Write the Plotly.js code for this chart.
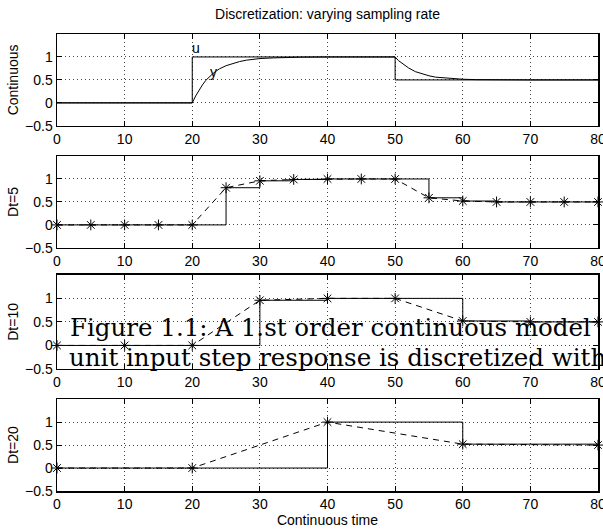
<!DOCTYPE html>
<html><head><meta charset="utf-8">
<script src="https://cdn.plot.ly/plotly-3.0.1.min.js"></script>
<style>html,body{margin:0;padding:0;background:#fff;overflow:hidden}#chart{width:603px;height:529px}</style>
</head><body><div id="chart"></div>
<script>
// ---- data ----
var xTicks = [0,10,20,30,40,50,60,70,80];
var yTicks = [-0.5,0,0.5,1];
var yTickText = ['\u22120.5','0','0.5','1'];
var titleText = 'Discretization: varying sampling rate';
var xTitle = 'Continuous time';
var panelLabels = ['Continuous','Dt=5','Dt=10','Dt=20'];
var captionLine1 = 'Figure 1.1: A 1.st order continuous model';
var captionLine2 = 'unit input step response is discretized with';

// continuous input u (step changes) and output y
var uT = [0,20,50,80];
var uV = [0,1,0.5,0.5];
var yT = [0,20,20.5,21,21.5,22,22.5,23,23.5,24,25,26,27,28,29,30,32,34,36,40,45,50,50.5,51,51.5,52,53,54,55,56,57,58,60,62,64,66,70,80];
var yV = [0,0,0.15,0.28,0.39,0.49,0.57,0.63,0.69,0.74,0.81,0.86,0.90,0.93,0.95,0.965,0.98,0.99,0.995,1,1,1,0.92,0.86,0.81,0.76,0.68,0.63,0.59,0.56,0.545,0.53,0.515,0.507,0.504,0.502,0.5,0.5];

// sampled, Dt = 5
var t5 = [0,5,10,15,20,25,30,35,40,45,50,55,60,65,70,75,80];
var v5 = [0,0,0,0,0,0.81,0.96,0.99,1,1,1,0.59,0.52,0.5,0.5,0.5,0.5];
// sampled, Dt = 10
var t10 = [0,10,20,30,40,50,60,70,80];
var v10 = [0,0,0,0.96,1,1,0.52,0.5,0.5];
// sampled, Dt = 20
var t20 = [0,20,40,60,80];
var v20 = [0,0,1,0.52,0.5];

// ---- traces ----
var black = '#000';
function stairs(t, v, xa, ya){
  return {x:t, y:v, xaxis:xa, yaxis:ya, mode:'lines', line:{shape:'hv', color:black, width:1}, hoverinfo:'skip', showlegend:false};
}
function samples(t, v, xa, ya){
  return {x:t, y:v, xaxis:xa, yaxis:ya, mode:'lines+markers', line:{color:black, width:1, dash:'6px,5px'},
    marker:{symbol:'asterisk-open', size:9, color:black, line:{color:black, width:1}}, cliponaxis:false, hoverinfo:'skip', showlegend:false};
}
var traces = [
  stairs(uT, uV, 'x', 'y'),
  {x:yT, y:yV, xaxis:'x', yaxis:'y', mode:'lines', line:{color:black, width:1}, hoverinfo:'skip', showlegend:false},
  stairs(t5, v5, 'x2', 'y2'), samples(t5, v5, 'x2', 'y2'),
  stairs(t10, v10, 'x3', 'y3'), samples(t10, v10, 'x3', 'y3'),
  stairs(t20, v20, 'x4', 'y4'), samples(t20, v20, 'x4', 'y4')
];

// ---- layout ----
var sans = 'Liberation Sans, Arial, sans-serif';
var tickFont = {family:sans, size:14, color:black};
function xax(anchor){
  return {anchor:anchor, domain:[0,1], range:[0,80], tickvals:xTicks, ticktext:xTicks.map(String), ticks:'inside', ticklen:5, tickcolor:black,
    mirror:'ticks', showline:true, linecolor:black, linewidth:1.5, showgrid:true, gridcolor:'#444', griddash:'1px,3px', gridwidth:1,
    zeroline:false, tickfont:tickFont, ticklabeloverflow:'allow', fixedrange:true};
}
function yax(anchor, dom, label){
  return {anchor:anchor, domain:dom, range:[-0.5,1.5], tickvals:yTicks, ticktext:yTickText, ticks:'inside', ticklen:5, tickcolor:black,
    mirror:'ticks', showline:true, linecolor:black, linewidth:1.5, showgrid:true, gridcolor:'#444', griddash:'1px,3px', gridwidth:1,
    zeroline:false, tickfont:tickFont, ticklabeloverflow:'allow', fixedrange:true,
    title:{text:label, font:{family:sans, size:14, color:black}, standoff:3}};
}
var capFont = {family:'DejaVu Serif, Liberation Serif, serif', size:24.5, color:black};
var layout = {
  width:603, height:529,
  margin:{l:57, r:5, t:34, b:38},
  paper_bgcolor:'#fff', plot_bgcolor:'#fff',
  title:{text:titleText, font:{family:sans, size:14, color:black}, x:0.5, xref:'paper', y:1-14/529, yref:'container', yanchor:'middle'},
  xaxis:xax('y'), yaxis:yax('x', [0.799,1], panelLabels[0]),
  xaxis2:xax('y2'), yaxis2:yax('x2', [0.532,0.733], panelLabels[1]),
  xaxis3:xax('y3'), yaxis3:yax('x3', [0.267,0.473], panelLabels[2]),
  xaxis4:xax('y4'), yaxis4:yax('x4', [0,0.201], panelLabels[3]),
  annotations:[
    {text:'u', x:20.5, y:1.2, xref:'x', yref:'y', showarrow:false, font:{family:sans, size:14, color:black}},
    {text:'y', x:23.2, y:0.68, xref:'x', yref:'y', showarrow:false, font:{family:sans, size:14, color:black}},
    {text:captionLine1, x:(68-57)/541, y:(491-338)/457, xref:'paper', yref:'paper', xanchor:'left', yanchor:'bottom', yshift:-6, showarrow:false, font:capFont},
    {text:captionLine2, x:(67-57)/541, y:(491-368)/457, xref:'paper', yref:'paper', xanchor:'left', yanchor:'bottom', yshift:-6, showarrow:false, font:capFont}
  ]
};
layout.xaxis4.title = {text:xTitle, font:{family:sans, size:14, color:black}, standoff:2};

Plotly.newPlot('chart', traces, layout, {displayModeBar:false, staticPlot:true});
</script></body></html>
